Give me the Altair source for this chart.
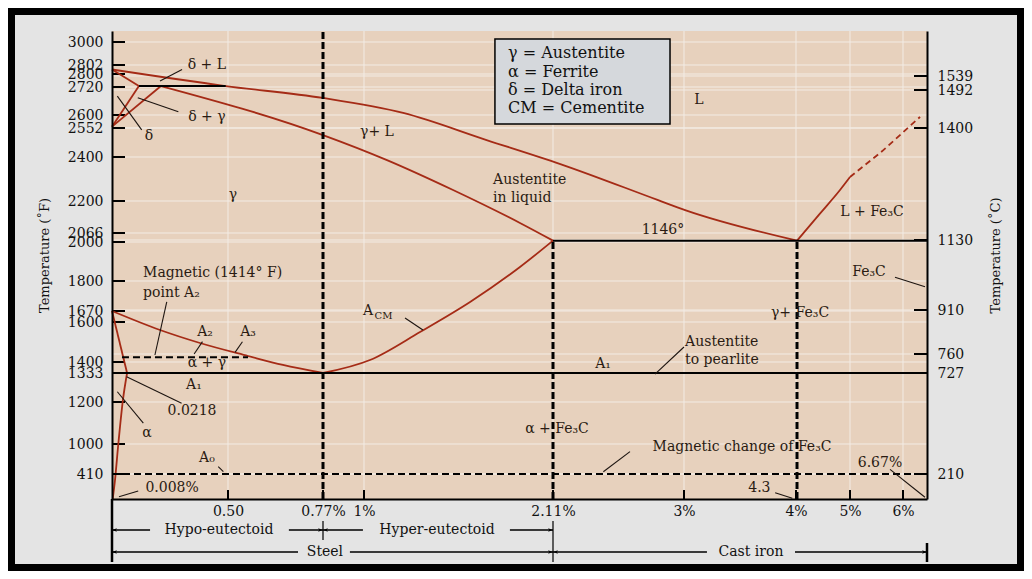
import altair as alt
import pandas as pd

# ---------------- axis definitions (piecewise scales as drawn) ----------------
X_DOMAIN = [0, 0.5, 0.77, 1, 2.11, 3, 4, 4.3, 5, 6, 6.67]
X_RANGE = [0, 116, 211, 252, 441, 572, 684, 685, 738, 791, 815]
F_DOMAIN = [0, 410, 1000, 1200, 1333, 1400, 1600, 1670, 1800, 2000, 2066, 2200,
            2400, 2552, 2600, 2720, 2800, 2802, 3000, 3100]
F_RANGE = [468, 443, 413, 371, 342, 331, 291, 280, 250, 211, 202, 170,
           126, 97, 84, 56, 43, 34, 11, 0]
C_DOMAIN = [0, 210, 727, 760, 910, 1130, 1400, 1492, 1539, 1700]
C_RANGE = [468, 443, 342, 323, 279, 209, 97, 59, 45, 0]

F_TICKS = [3000, 2802, 2800, 2720, 2600, 2552, 2400, 2200, 2066, 2000, 1800,
           1670, 1600, 1400, 1333, 1200, 1000, 410]
C_TICKS = [1539, 1492, 1400, 1130, 910, 760, 727, 210]
X_TICKS = [0.5, 0.77, 1, 2.11, 3, 4, 5, 6]
X_LABELS = ["0.50", "0.77%", "1%", "2.11%", "3%", "4%", "5%", "6%"]
X_GRID = [0.5, 1, 2.11, 3, 4, 5, 6]

# ---------------- phase boundaries (carbon %, temperature °F) ----------------
LIQ_C = [0, 0.49, 0.77, 1.23, 1.72, 2.16, 2.82, 3.01, 4.3]
LIQ_F = [2801, 2726, 2673, 2609, 2489, 2368, 2205, 2162, 2010]
DLIQ_C = [0, 0.116]
DLIQ_F = [2801, 2726]
DG1_C = [0.116, 0]
DG1_F = [2726, 2557]
DG2_C = [0, 0.211]
DG2_F = [2557, 2726]
SOL_C = [0.211, 0.77, 1.135, 1.523, 1.916, 2.11]
SOL_F = [2726, 2515, 2386, 2250, 2108, 2010]
ACM_C = [0.77, 1.035, 1.329, 1.623, 1.916, 2.11]
ACM_F = [1333, 1410, 1550, 1709, 1872, 2010]
A3_C = [0, 0.207, 0.379, 0.557, 0.656, 0.77]
A3_F = [1670, 1560, 1495, 1430, 1382, 1333]
ALPHA_C = [0, 0.065]
ALPHA_F = [1670, 1333]
SOLV_C = [0.003, 0.013, 0.026, 0.047, 0.065]
SOLV_F = [0, 312, 941, 1209, 1333]
CEM_C = [4.3, 4.6, 4.868, 5.0]
CEM_F = [2010, 2146, 2250, 2309]
CEMD_C = [5.0, 5.283, 5.566, 5.943, 6.475]
CEMD_F = [2309, 2364, 2421, 2515, 2593]

# horizontal solid lines: start %, end %, °F
HSOLID_C1 = [0, 2.11, 0.116]
HSOLID_C2 = [6.67, 6.67, 0.49]
HSOLID_F = [1333, 2010, 2726]
# horizontal dashed lines (A0, A2)
HDASH_C1 = [0, 0.043]
HDASH_C2 = [6.67, 0.557]
HDASH_F = [410, 1424]
# vertical dashed lines
VDASH_C = [0.77, 2.11, 4.3]
VDASH_F1 = [0, 0, 0]
VDASH_F2 = [3100, 2010, 2010]

# leader lines
LEAD_C1 = [0.207, 0.111, 0.023, 0.236, 0.390, 0.541, 0.063, 0.023, 0.458, 0.030,
           1.241, 5.849, 2.803, 2.452, 5.755, 3.814]
LEAD_F1 = [2757, 2674, 2681, 1710, 1502, 1501, 1316, 1247, 554, 38,
           1625, 1819, 1328, 455, 502, 103]
LEAD_C2 = [0.302, 0.286, 0.128, 0.185, 0.354, 0.520, 0.300, 0.135, 0.480, 0.113,
           1.346, 6.614, 3.0, 2.633, 6.614, 3.967]
LEAD_F2 = [2801, 2614, 2542, 1435, 1440, 1448, 1194, 1099, 455, 131,
           1560, 1775, 1475, 849, 28, 11]

# centred labels
LAB_T = ["δ + L", "δ + γ", "δ", "γ", "γ+ L", "L", "1146°", "L + Fe₃C", "Fe₃C",
         "γ+ Fe₃C", "A₁", "A₂", "A₃", "α + γ", "A₁", "0.0218", "α", "A₀",
         "0.008%", "α + Fe₃C", "Magnetic change of Fe₃C", "6.67%", "4.3"]
LAB_C = [0.409, 0.409, 0.159, 0.514, 1.076, 3.133, 2.857, 5.415, 5.358,
         4.34, 2.45, 0.401, 0.557, 0.409, 0.353, 0.345, 0.151, 0.409,
         0.259, 2.137, 3.518, 5.566, 3.673]
LAB_F = [2802, 2593, 2510, 2227, 2531, 2664, 2079, 2154, 1846,
         1657, 1388, 1550, 1550, 1394, 1278, 1157, 1052, 725,
         180, 1071, 941, 626, 180]
# left-aligned labels
LLAB_T = ["Austentite", "in liquid", "Austentite", "to pearlite",
          "Magnetic (1414° F)", "point A₂", "A"]
LLAB_C = [1.758, 1.758, 3.01, 3.01, 0.134, 0.134, 0.994]
LLAB_F = [2295, 2214, 1500, 1410, 1841, 1748, 1670]
SUB_T = ["CM"]
SUB_C = [1.062]
SUB_F = [1640]

# key box
KEY_C = [1.769, 2.905]
KEY_F = [3027, 2567]
KEY_T = ["γ = Austentite", "α  = Ferrite", "δ = Delta iron", "CM  = Cementite"]
KEY_TC = [1.846, 1.846, 1.846, 1.846]
KEY_TF = [2905, 2800.5, 2707, 2630]

# bottom brackets
BR1_C1 = [0, 0.673, 0.77, 1.857]
BR1_C2 = [0.164, 0.77, 0.994, 2.11]
BR2_C1 = [0, 0.921, 2.11, 3.991]
BR2_C2 = [0.699, 2.11, 3.205, 6.67]
BR_T = ["Hypo-eutectoid", "Hyper-eutectoid", "Steel", "Cast iron"]
BR_TC = [0.461, 1.429, 0.781, 3.598]
BR_ROW = [1, 1, 2, 2]
ARROW_L1 = [0, 0.77]
ARROW_R1 = [0.77, 2.11]
ARROW_L2 = [0, 2.11]
ARROW_R2 = [2.11, 6.67]

# ---------------- styling ----------------
SERIF = "DejaVu Serif"
RED = "#a52b16"
INK = "#2a1b12"
GRID = "#f3ece5"
FS_TXT = 14

XS = alt.Scale(domain=X_DOMAIN, range=X_RANGE, zero=False, nice=False)
FS = alt.Scale(domain=F_DOMAIN, range=F_RANGE, zero=False, nice=False)
CS = alt.Scale(domain=C_DOMAIN, range=C_RANGE, zero=False, nice=False)

label_expr = " : ".join(f"datum.value == {v} ? '{l}'" for v, l in zip(X_TICKS, X_LABELS)) + " : ''"
XAXIS = alt.Axis(values=X_TICKS, labelExpr=label_expr, ticks=False, tickSize=0, grid=False,
                 domainColor="black", domainWidth=2, labelFont=SERIF, labelFontSize=14,
                 labelColor="#111", labelPadding=5, labelOverlap=False, labelFlush=False,
                 title=None, zindex=1)
LEFT_AXIS = alt.Axis(orient="left", values=F_TICKS, format="d", ticks=False, tickSize=0, grid=False,
                     domainColor="black", domainWidth=2, labelFont=SERIF, labelFontSize=14,
                     labelColor="#111", labelPadding=9, labelOverlap=False, labelFlush=False,
                     title="Temperature (˚F)", titleFont=SERIF, titleFontSize=13,
                     titleFontWeight="normal", titleColor="#111", titleAngle=270,
                     titleX=-68, titleY=224, titleAlign="center", titleBaseline="middle",
                     zindex=1)
RIGHT_AXIS = alt.Axis(orient="right", values=C_TICKS, format="d", ticks=False, tickSize=0, grid=False,
                      domainColor="black", domainWidth=2, labelFont=SERIF, labelFontSize=14,
                      labelColor="#111", labelPadding=10, labelOverlap=False, labelFlush=False,
                      title="Temperature (˚C)", titleFont=SERIF, titleFontSize=13,
                      titleFontWeight="normal", titleColor="#111", titleAngle=270,
                      titleX=68, titleY=224, titleAlign="center", titleBaseline="middle",
                      zindex=1)


def xq(f):
    return alt.X(f, type="quantitative", scale=XS, axis=XAXIS)


def yf(f, axis=None):
    return alt.Y(f, type="quantitative", scale=FS, axis=axis)


def yc(f, axis=None):
    return alt.Y(f, type="quantitative", scale=CS, axis=axis)


def curves(named):
    rows = []
    for g, (cs, fs) in named.items():
        for i, (c, f) in enumerate(zip(cs, fs)):
            rows.append({"g": g, "i": i, "c": c, "f": f})
    return pd.DataFrame(rows)


one = pd.DataFrame({"a": [0]})
layers = []

# frame and plot background
layers.append(alt.Chart(one).mark_rect(color="#e4e4e4").encode(
    x=alt.value(-97), x2=alt.value(905), y=alt.value(-16), y2=alt.value(533)))
layers.append(alt.Chart(one).mark_rect(color="#e7d1bd").encode(
    x=alt.value(0), x2=alt.value(815), y=alt.value(0), y2=alt.value(468)))

# grid lines + axes
layers.append(alt.Chart(pd.DataFrame({"f": F_TICKS})).mark_rule(color=GRID, strokeWidth=1).encode(
    y=yf("f", LEFT_AXIS), x=alt.value(0), x2=alt.value(815)))
layers.append(alt.Chart(pd.DataFrame({"t": C_TICKS})).mark_rule(color=GRID, strokeWidth=1).encode(
    y=yc("t", RIGHT_AXIS), x=alt.value(0), x2=alt.value(815)))
layers.append(alt.Chart(pd.DataFrame({"c": X_GRID})).mark_rule(color=GRID, strokeWidth=1).encode(
    x=xq("c"), y=alt.value(0), y2=alt.value(468)))

# inward ticks
layers.append(alt.Chart(pd.DataFrame({"f": F_TICKS})).mark_rule(color="black", strokeWidth=2).encode(
    y=yf("f"), x=alt.value(0), x2=alt.value(13)))
layers.append(alt.Chart(pd.DataFrame({"t": C_TICKS})).mark_rule(color="black", strokeWidth=2).encode(
    y=yc("t"), x=alt.value(802), x2=alt.value(815)))
layers.append(alt.Chart(pd.DataFrame({"c": X_TICKS})).mark_rule(color="black", strokeWidth=2).encode(
    x=xq("c"), y=alt.value(459), y2=alt.value(468)))

# phase boundaries
smooth = curves({"liq": (LIQ_C, LIQ_F), "sol": (SOL_C, SOL_F), "acm": (ACM_C, ACM_F),
                 "a3": (A3_C, A3_F), "solv": (SOLV_C, SOLV_F), "cem": (CEM_C, CEM_F)})
layers.append(alt.Chart(smooth).mark_line(color=RED, strokeWidth=1.8, interpolate="monotone").encode(
    x=xq("c"), y=yf("f"), detail="g:N", order="i:Q"))
straight = curves({"dliq": (DLIQ_C, DLIQ_F), "dg1": (DG1_C, DG1_F),
                   "dg2": (DG2_C, DG2_F), "alpha": (ALPHA_C, ALPHA_F)})
layers.append(alt.Chart(straight).mark_line(color=RED, strokeWidth=1.8).encode(
    x=xq("c"), y=yf("f"), detail="g:N", order="i:Q"))
dashed = curves({"cemd": (CEMD_C, CEMD_F)})
layers.append(alt.Chart(dashed).mark_line(color=RED, strokeWidth=1.8, strokeDash=[6, 4],
                                          interpolate="monotone").encode(
    x=xq("c"), y=yf("f"), detail="g:N", order="i:Q"))

# black lines
layers.append(alt.Chart(pd.DataFrame({"c1": HSOLID_C1, "c2": HSOLID_C2, "f": HSOLID_F}))
              .mark_rule(color="black", strokeWidth=2).encode(
    x=xq("c1"), x2=alt.X2("c2"), y=yf("f")))
layers.append(alt.Chart(pd.DataFrame({"c1": HDASH_C1, "c2": HDASH_C2, "f": HDASH_F}))
              .mark_rule(color="black", strokeWidth=2, strokeDash=[7, 4]).encode(
    x=xq("c1"), x2=alt.X2("c2"), y=yf("f")))
layers.append(alt.Chart(pd.DataFrame({"c": VDASH_C, "f1": VDASH_F1, "f2": VDASH_F2}))
              .mark_rule(color="black", strokeWidth=3, strokeDash=[7, 3]).encode(
    x=xq("c"), y=yf("f1"), y2=alt.Y2("f2")))

# leader lines
layers.append(alt.Chart(pd.DataFrame({"c1": LEAD_C1, "f1": LEAD_F1, "c2": LEAD_C2, "f2": LEAD_F2}))
              .mark_rule(color="#1c1410", strokeWidth=1.1).encode(
    x=xq("c1"), x2=alt.X2("c2"), y=yf("f1"), y2=alt.Y2("f2")))

# labels
layers.append(alt.Chart(pd.DataFrame({"t": LAB_T, "c": LAB_C, "f": LAB_F}))
              .mark_text(font=SERIF, fontSize=FS_TXT, color=INK, align="center", baseline="middle").encode(
    x=xq("c"), y=yf("f"), text="t:N"))
layers.append(alt.Chart(pd.DataFrame({"t": LLAB_T, "c": LLAB_C, "f": LLAB_F}))
              .mark_text(font=SERIF, fontSize=FS_TXT, color=INK, align="left", baseline="middle").encode(
    x=xq("c"), y=yf("f"), text="t:N"))
layers.append(alt.Chart(pd.DataFrame({"t": SUB_T, "c": SUB_C, "f": SUB_F}))
              .mark_text(font=SERIF, fontSize=10, color=INK, align="left", baseline="middle").encode(
    x=xq("c"), y=yf("f"), text="t:N"))

# key box
layers.append(alt.Chart(pd.DataFrame({"c1": [KEY_C[0]], "c2": [KEY_C[1]], "f1": [KEY_F[0]], "f2": [KEY_F[1]]}))
              .mark_rect(fill="#d5d8dc", stroke="black", strokeWidth=1.5).encode(
    x=xq("c1"), x2=alt.X2("c2"), y=yf("f1"), y2=alt.Y2("f2")))
layers.append(alt.Chart(pd.DataFrame({"t": KEY_T, "c": KEY_TC, "f": KEY_TF}))
              .mark_text(font=SERIF, fontSize=16, color="#111", align="left", baseline="middle").encode(
    x=xq("c"), y=yf("f"), text="t:N"))

# bottom brackets
layers.append(alt.Chart(pd.DataFrame({"c1": BR1_C1, "c2": BR1_C2}))
              .mark_rule(color="black", strokeWidth=1.3).encode(
    x=xq("c1"), x2=alt.X2("c2"), y=alt.value(499)))
layers.append(alt.Chart(pd.DataFrame({"c1": BR2_C1, "c2": BR2_C2}))
              .mark_rule(color="black", strokeWidth=1.3).encode(
    x=xq("c1"), x2=alt.X2("c2"), y=alt.value(521)))
layers.append(alt.Chart(pd.DataFrame({"c": [0]})).mark_rule(color="black", strokeWidth=2.5).encode(
    x=xq("c"), y=alt.value(468), y2=alt.value(531)))
layers.append(alt.Chart(pd.DataFrame({"c": [0.77]})).mark_rule(color="black", strokeWidth=1.2).encode(
    x=xq("c"), y=alt.value(490), y2=alt.value(509)))
layers.append(alt.Chart(pd.DataFrame({"c": [2.11]})).mark_rule(color="black", strokeWidth=1.2).encode(
    x=xq("c"), y=alt.value(490), y2=alt.value(531)))
layers.append(alt.Chart(pd.DataFrame({"c": [6.67]})).mark_rule(color="black", strokeWidth=2.5).encode(
    x=xq("c"), y=alt.value(512), y2=alt.value(531)))

LEFT_HEAD = "M0,0L2,-0.7L1.5,0L2,0.7Z"
RIGHT_HEAD = "M0,0L-2,-0.7L-1.5,0L-2,0.7Z"
for cs, shape, ypix in [(ARROW_L1, LEFT_HEAD, 499), (ARROW_R1, RIGHT_HEAD, 499),
                        (ARROW_L2, LEFT_HEAD, 521), (ARROW_R2, RIGHT_HEAD, 521)]:
    layers.append(alt.Chart(pd.DataFrame({"c": cs})).mark_point(
        shape=shape, filled=True, size=25, color="black", opacity=1).encode(
        x=xq("c"), y=alt.value(ypix)))

br = pd.DataFrame({"t": BR_T, "c": BR_TC, "row": BR_ROW})
layers.append(alt.Chart(br[br.row == 1]).mark_text(
    font=SERIF, fontSize=FS_TXT, color="#111", align="center", baseline="middle").encode(
    x=xq("c"), y=alt.value(499), text="t:N"))
layers.append(alt.Chart(br[br.row == 2]).mark_text(
    font=SERIF, fontSize=FS_TXT, color="#111", align="center", baseline="middle").encode(
    x=xq("c"), y=alt.value(521), text="t:N"))

chart = alt.layer(*layers).resolve_scale(y="independent").properties(
    width=815, height=468,
    padding={"left": 104, "top": 23, "right": 97, "bottom": 72},
    autosize=alt.AutoSizeParams(type="none"),
    background="#000000",
).configure_view(stroke=None)

chart.save("out.html", embed_options={"renderer": "svg", "actions": False})
